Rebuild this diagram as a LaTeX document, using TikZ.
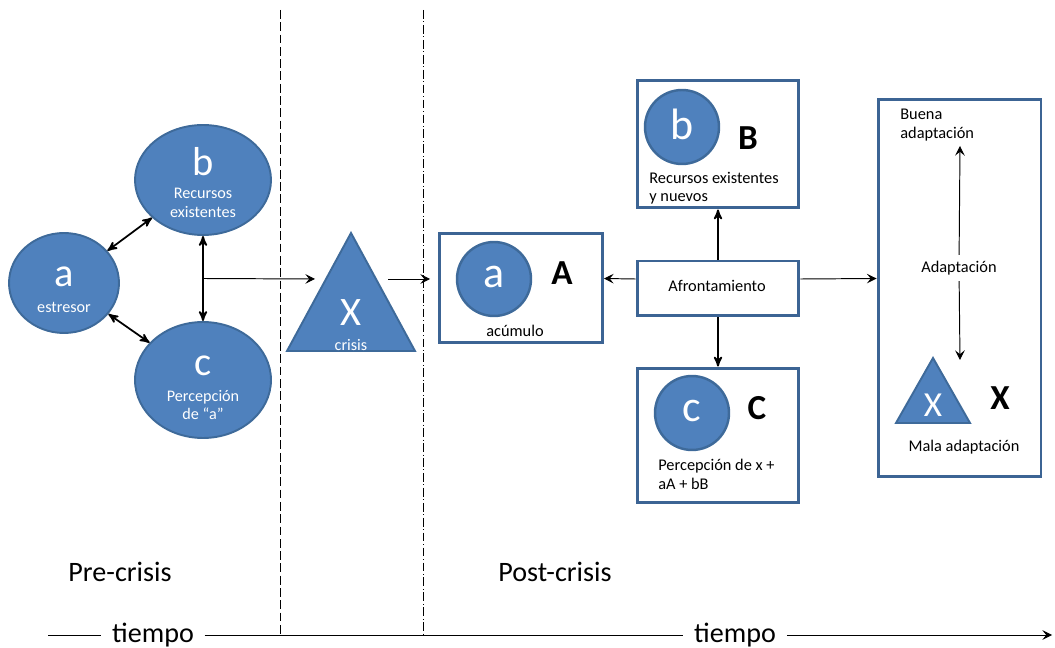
\documentclass[tikz,border=0pt]{standalone}
\usepackage{fontspec}
\setmainfont{Carlito}
\usepackage{tikz}
\usetikzlibrary{arrows,arrows.meta,positioning}
\usetikzlibrary{shapes.geometric}
\usetikzlibrary{calc}
\definecolor{blobfill}{HTML}{4F81BD}
\definecolor{blobline}{HTML}{3E6A9A}
\definecolor{boxline}{HTML}{3C6494}
\tikzset{
 >=stealth',
 blob/.style={ellipse,draw=blobline,fill=blobfill,line width=1.1pt,inner sep=0pt},
 disc/.style={circle,draw=blobline,fill=blobfill,line width=1.4pt,inner sep=0pt,minimum size=1.48cm},
 panel/.style={rectangle,draw=boxline,line width=1.7pt,inner sep=0pt},
 big/.style={text=white,font=\fontsize{23}{23}\selectfont},
 small/.style={text=white,font=\fontsize{9.2}{10.5}\selectfont,align=center},
 caption/.style={font=\fontsize{9.3}{10.5}\selectfont},
 bold/.style={font=\fontsize{20}{20}\selectfont\bfseries},
 twoway/.style={<->,line width=1pt},
 flow/.style={-{Stealth[length=5.5pt,width=5.5pt,inset=2.2pt]},line width=0.55pt},
 period/.style={font=\fontsize{16}{16}\selectfont}
}
\begin{document}
\begin{tikzpicture}[x=0.02cm,y=-0.02cm]
\useasboundingbox (0,0) rectangle (1055,648);

% separadores
\draw[line width=0.5pt,dash pattern=on 5pt off 2pt] (280,10) -- (280,635);
\draw[line width=0.4pt,dash pattern=on 5pt off 1.5pt on 0.5pt off 1.5pt] (423,10) -- (423,635);

% pre-crisis
\path (64,283) node[name=a,blob,minimum width=2.2cm,minimum height=2cm] {};
\path (203,180) node[name=b,blob,minimum width=2.72cm,minimum height=2.2cm] {};
\path (203,380) node[name=c,blob,minimum width=2.72cm,minimum height=2.32cm] {};
\path (64,277) node[name=al,big] {a};
\path (64,307) node[name=at,small] {estresor};
\path (203,162) node[name=bl,big] {b};
\path (203,203) node[name=bt,small] {Recursos\\existentes};
\path (203,366) node[name=cl,big] {c};
\path (203,405) node[name=ct,small] {Percepción\\de “a”};

\path[twoway] (a) edge (b);
\path[twoway] (a) edge (c);
\path[twoway] (b) edge (c);

% crisis
\coordinate (xtop) at (351,233);
\coordinate (xleft) at (287,351);
\coordinate (xright) at (415,351);
\filldraw[draw=blobline,fill=blobfill,line width=1.1pt,line join=miter] (xtop) -- (xleft) -- (xright) -- cycle;
\path (351,313) node[name=xl,big] {X};
\path (351,345) node[name=xt,small] {crisis};

\coordinate (bc) at ($(b.south)!0.5!(c.north)$);
\coordinate (xin) at (315,279);
\coordinate (xout) at (388,279);
\coordinate (ain) at (430,279);
\path[flow] (bc) edge (xin);
\path[flow] (xout) edge (ain);

% post-crisis
\path (521,288) node[name=boxA,panel,minimum width=3.26cm,minimum height=2.2cm] {};
\path (494,279) node[name=da,disc] {};
\path (494,277) node[name=dal,big,font=\fontsize{25}{25}\selectfont] {a};
\path (562,273) node[name=A,bold] {A};
\path (515,331) node[name=at2,caption] {acúmulo};

\path (718,144) node[name=boxB,panel,minimum width=3.24cm,minimum height=2.56cm] {};
\path (682,127) node[name=db,disc] {};
\path (682,124) node[name=dbl,big,font=\fontsize{25}{25}\selectfont] {b};
\path (748,138) node[name=B,bold] {B};
\path (649,188) node[name=bt2,caption,anchor=west,align=left,inner sep=0pt] {Recursos existentes\\y nuevos};

\path (718,288.5) node[name=afr,panel,minimum width=3.24cm,minimum height=1.1cm] {};
\path (717,286) node[name=afrt,caption] {Afrontamiento};

\path (718,435.5) node[name=boxC,panel,minimum width=3.24cm,minimum height=2.7cm] {};
\path (692,413) node[name=dc,disc] {};
\path (692,411) node[name=dcl,big,font=\fontsize{25}{25}\selectfont] {c};
\path (757,408) node[name=C,bold] {C};
\path (658,474.5) node[name=ct2,caption,anchor=west,align=left,inner sep=0pt] {Percepción de x +\\aA + bB};

\path[twoway,<-] (boxB) edge (afr);
\path[->,line width=1pt] (afr) edge (boxC);
\path[flow] ([yshift=0.19cm]afr.west) edge ([yshift=0.19cm]boxA.east);

% adaptacion
\path (959.5,288) node[name=boxD,panel,minimum width=3.26cm,minimum height=7.56cm] {};
\path[flow] ([yshift=0.19cm]afr.east) edge ([yshift=0.19cm]boxD.west);
\path (900,125) node[name=buena,caption,anchor=west,align=left,inner sep=0pt] {Buena\\adaptación};
\path (959,268) node[name=adap,caption] {Adaptación};
\coordinate (up) at (960,146);
\coordinate (down) at (960,360);
\path[flow] (adap) edge (up);
\path[flow] (adap) edge (down);
\coordinate (ytop) at (933,358);
\coordinate (yleft) at (896,423);
\coordinate (yright) at (970,423);
\filldraw[draw=blobline,fill=blobfill,line width=1.1pt,line join=miter] (ytop) -- (yleft) -- (yright) -- cycle;
\path (933,405) node[name=yl,big,font=\fontsize{20}{20}\selectfont] {X};
\path (1000,398) node[name=X,bold] {X};
\path (964,447) node[name=mala,caption] {Mala adaptación};

% tiempo
\path (120,572) node[name=pre,period] {Pre-crisis};
\path (555,572) node[name=post,period] {Post-crisis};
\path (153,635) node[name=t1,period,inner sep=6pt] {tiempo};
\path (735,635) node[name=t2,period,inner sep=6pt] {tiempo};
\coordinate (tstart) at (48,635);
\coordinate (tend) at (1052,635);
\path[line width=0.5pt] (tstart) edge (t1);
\path[line width=0.5pt] (t1) edge (t2);
\path[flow] (t2) edge (tend);

\end{tikzpicture}
\end{document}
